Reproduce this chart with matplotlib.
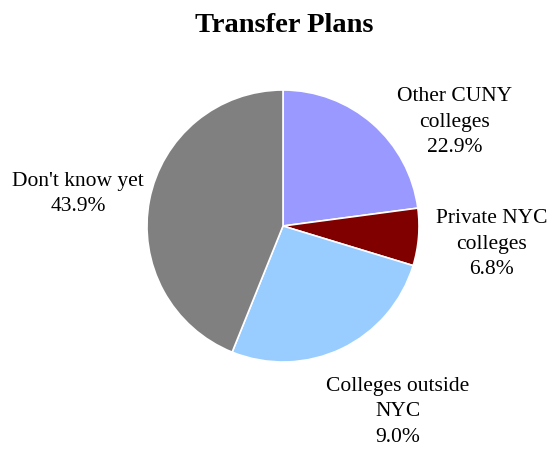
import matplotlib
matplotlib.use("Agg")
import matplotlib.pyplot as plt

# Data (slice sizes as drawn; label text as printed on the chart)
categories = ["Other CUNY\ncolleges", "Private NYC\ncolleges", "Colleges outside\nNYC", "Don't know yet"]
sizes = [22.9, 6.8, 26.4, 43.9]
pct_labels = ["22.9%", "6.8%", "9.0%", "43.9%"]
colors = ["#9999FF", "#800000", "#99CCFF", "#808080"]

plt.rcParams["font.family"] = ["Liberation Serif", "DejaVu Serif"]

W, H = 552, 449
fig = plt.figure(figsize=(W / 100, H / 100), dpi=100)

# pie centre and radius in pixels
cx, cy, r = 283, 226, 136
ax = fig.add_axes([(cx - r) / W, (H - cy - r) / H, 2 * r / W, 2 * r / H])

ax.pie(sizes, colors=colors, startangle=90, counterclock=False,
       wedgeprops=dict(edgecolor="white", linewidth=1.2))
ax.set_xlim(-1, 1)
ax.set_ylim(-1, 1)
ax.set_aspect("equal")
ax.axis("off")

# label centres (pixels)
label_px = [(455, 122), (492, 244), (398, 412), (78, 194)]
for cat, pct, (px, py) in zip(categories, pct_labels, label_px):
    ax.text((px - cx) / r, (cy - py) / r, cat + "\n" + pct,
            ha="center", va="center", fontsize=15.5, linespacing=1.44,
            clip_on=False)

fig.text(284 / W, 1 - 25 / H, "Transfer Plans", ha="center", va="center",
         fontsize=20.5, fontweight="bold")

fig.savefig("out.png", dpi=100)
